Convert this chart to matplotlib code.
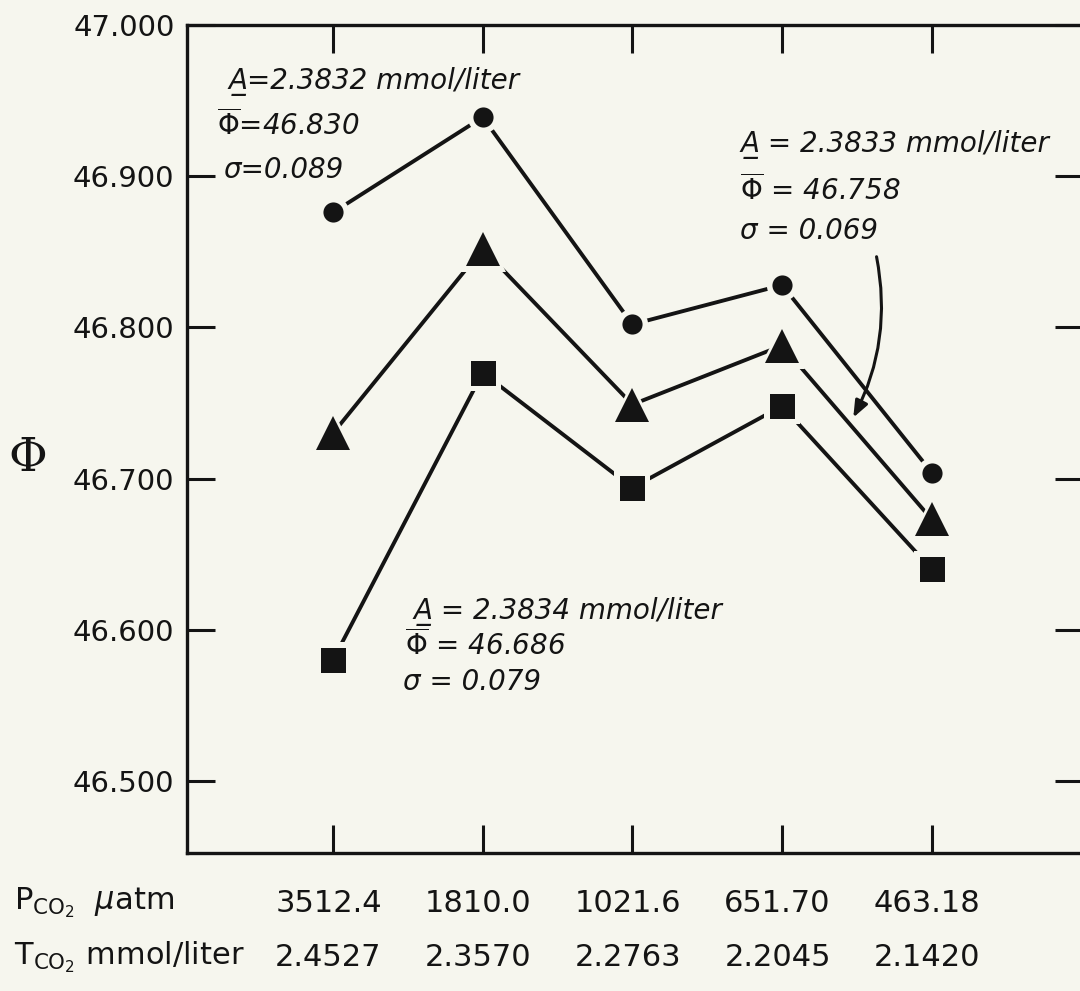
import matplotlib
matplotlib.use('Agg')
import matplotlib.pyplot as plt
from matplotlib import font_manager
from matplotlib.transforms import blended_transform_factory

# data
positions = [1, 2, 3, 4, 5]
pco2 = ['3512.4', '1810.0', '1021.6', '651.70', '463.18']
tco2 = ['2.4527', '2.3570', '2.2763', '2.2045', '2.1420']
phi_circle = [46.876, 46.939, 46.802, 46.828, 46.704]
phi_triangle = [46.730, 46.852, 46.749, 46.788, 46.673]
phi_square = [46.580, 46.770, 46.694, 46.748, 46.640]
yticks = [46.5, 46.6, 46.7, 46.8, 46.9, 47.0]

BG = '#f6f6ee'
INK = '#141414'
W, H = 1080, 991

names = {f.name for f in font_manager.fontManager.ttflist}
NARROW = 'Liberation Sans Narrow' if 'Liberation Sans Narrow' in names else 'DejaVu Sans'
NARROW_SIZE = 28 if NARROW != 'DejaVu Sans' else 22

plt.rcParams['mathtext.fontset'] = 'dejavusans'

fig = plt.figure(figsize=(W / 100, H / 100), dpi=100, facecolor=BG)
ax = fig.add_axes([187 / W, 1 - 853 / H, (1083 - 187) / W, (853 - 25) / H])
ax.set_facecolor(BG)


def px(x, y):
    # pixel position (from top-left) -> figure fraction
    return x / W, 1 - y / H


# series: line, background halo, marker
series = [
    (phi_circle, 'o', 14.5),
    (phi_triangle, '^', 25),
    (phi_square, 's', 18),
]
for vals, mk, ms in series:
    ax.plot(positions, vals, '-', color=INK, lw=2.8, zorder=2, solid_capstyle='butt')
    ax.plot(positions, vals, ls='none', marker=mk, ms=ms + 8, color=BG, mew=0, zorder=3)
    ax.plot(positions, vals, ls='none', marker=mk, ms=ms, color=INK, mew=0, zorder=4)

ax.set_xlim(0.025, 6.01)
ax.set_ylim(46.4524, 47.0)
ax.set_xticks(positions)
ax.set_xticklabels([])
ax.set_yticks(yticks)
ax.set_yticklabels([f'{v:.3f}' for v in yticks], fontsize=21, color=INK)
ax.tick_params(direction='in', length=20, width=2.2, color=INK,
               top=True, right=True, pad=9)
for s in ax.spines.values():
    s.set_linewidth(2.4)
    s.set_color(INK)

# y axis label
fig.text(*px(28, 458), '\u03a6', fontsize=34, family='DejaVu Serif',
         ha='center', va='center', color=INK)

# two rows of x values below the axis
tr = blended_transform_factory(ax.transData, fig.transFigure)
for p, a, b in zip(positions, pco2, tco2):
    ax.text(p - 0.03, px(0, 903)[1], a, transform=tr, ha='center', va='center',
            fontsize=NARROW_SIZE, family=NARROW, color=INK)
    ax.text(p - 0.03, px(0, 957)[1], b, transform=tr, ha='center', va='center',
            fontsize=NARROW_SIZE, family=NARROW, color=INK)

fig.text(*px(14, 903), r'P$_{\mathrm{CO}_2}$  $\mathit{\mu}$atm', fontsize=NARROW_SIZE,
         family=NARROW, ha='left', va='center', color=INK)
fig.text(*px(14, 957), r'T$_{\mathrm{CO}_2}$ mmol/liter', fontsize=NARROW_SIZE,
         family=NARROW, ha='left', va='center', color=INK)

# annotation blocks (italic)
note = dict(fontsize=20, style='italic', ha='left', va='center', color=INK)
fig.text(*px(228, 81), 'A\u0332=2.3832 mmol/liter', **note)
fig.text(*px(217, 125), r'$\overline{\mathit{\Phi}}$=46.830', **note)
fig.text(*px(223, 170), '\u03c3=0.089', **note)

fig.text(*px(740, 144), 'A\u0332 = 2.3833 mmol/liter', **note)
fig.text(*px(740, 190), r'$\overline{\mathit{\Phi}}$ = 46.758', **note)
fig.text(*px(740, 231), '\u03c3 = 0.069', **note)

fig.text(*px(413, 612), 'A\u0332 = 2.3834 mmol/liter', **note)
fig.text(*px(405, 645), r'$\overline{\mathit{\Phi}}$ = 46.686', **note)
fig.text(*px(403, 682), '\u03c3 = 0.079', **note)

# curved arrow pointing at the triangle series
fig.add_artist(matplotlib.patches.FancyArrowPatch(
    px(876, 254), px(852, 420), transform=fig.transFigure,
    arrowstyle='-|>,head_length=10,head_width=4', connectionstyle='arc3,rad=-0.18',
    color=INK, lw=2.2, mutation_scale=1))

fig.savefig('out.png', dpi=100, facecolor=BG)
